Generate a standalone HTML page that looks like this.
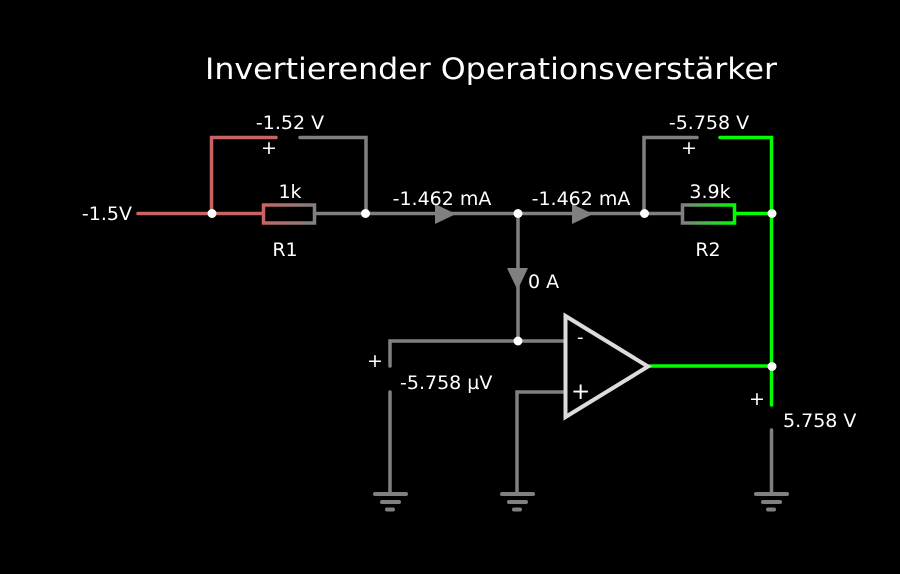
<!DOCTYPE html>
<html><head><meta charset="utf-8"><style>
html,body{margin:0;padding:0;background:#000;}
svg{display:block;}
text{font-family:"DejaVu Sans","Liberation Sans",sans-serif;fill:#fff;}
</style></head><body>
<svg width="900" height="574" viewBox="0 0 900 574" xmlns="http://www.w3.org/2000/svg">
<defs>
<linearGradient id="g1" x1="0" x2="1" y1="0" y2="0"><stop offset="0" stop-color="#c86464"/><stop offset="1" stop-color="#808080"/></linearGradient>
<linearGradient id="g2" x1="0" x2="1" y1="0" y2="0"><stop offset="0" stop-color="#808080"/><stop offset="1" stop-color="#00ff00"/></linearGradient>
</defs>
<rect width="900" height="574" fill="#000"/>
<text x="491" y="79" font-size="29" text-anchor="middle" fill="#e6e6e6" textLength="572" lengthAdjust="spacingAndGlyphs">Invertierender Operationsverstärker</text>

<g fill="none" stroke-width="3.5" stroke-linecap="round" stroke-linejoin="miter">
<!-- red -->
<path d="M138 213.5 H263" stroke="#c86464"/>
<path d="M211.5 213.5 V137.5 H276" stroke="#c86464"/>
<rect x="263.5" y="205" width="51" height="18" stroke="url(#g1)"/>
<!-- gray -->
<path d="M314.5 213.5 H682" stroke="#808080"/>
<path d="M300 137.5 H366 V213.5" stroke="#808080"/>
<path d="M644 213.5 V137.5 H697" stroke="#808080"/>
<path d="M518 213.5 V341 H565" stroke="#808080"/>
<path d="M390 366 V341 H518" stroke="#808080"/>
<path d="M390 392 V494" stroke="#808080"/>
<path d="M565 392 H517 V494" stroke="#808080"/>
<path d="M771.5 430 V494" stroke="#808080"/>
<rect x="682.5" y="205" width="52" height="18" stroke="url(#g2)"/>
<!-- green -->
<path d="M734.5 213.5 H771.5" stroke="#00ff00"/>
<path d="M720 137.5 H771.5 V405" stroke="#00ff00"/>
<path d="M649 366 H771.5" stroke="#00ff00"/>
</g>

<!-- grounds -->
<g stroke="#808080" stroke-width="4" stroke-linecap="round">
<path d="M375 494 H406 M382 502 H399 M387 509.5 H393"/>
<path d="M502 494 H533 M509 502 H526 M514 509.5 H520"/>
<path d="M756 494 H787 M763 502 H780 M768 509.5 H774"/>
</g>

<!-- op amp -->
<polygon points="565.5,316 565.5,417 648,366.5" fill="#000" stroke="#dcdcdc" stroke-width="4" stroke-linejoin="miter"/>
<text x="577" y="343" font-size="18">-</text>
<text x="571" y="399" font-size="23">+</text>

<!-- arrows -->
<g fill="#808080">
<polygon points="435,204 435,224 456,214"/>
<polygon points="572,204 572,224 593,214"/>
<polygon points="507,268 528,268 517.5,290"/>
</g>

<!-- junctions -->
<g fill="#fff">
<circle cx="212" cy="213.5" r="4.5"/>
<circle cx="365.5" cy="213.5" r="4.5"/>
<circle cx="518" cy="213.5" r="4.5"/>
<circle cx="644.5" cy="213.5" r="4.5"/>
<circle cx="772" cy="213.5" r="4.5"/>
<circle cx="518" cy="341" r="4.5"/>
<circle cx="772" cy="366.5" r="4.5"/>
</g>

<!-- labels -->
<g font-size="19">
<text x="132" y="220" text-anchor="end">-1.5V</text>
<text x="290" y="129" text-anchor="middle">-1.52 V</text>
<text x="269" y="154" text-anchor="middle">+</text>
<text x="290" y="198" text-anchor="middle">1k</text>
<text x="285" y="256" text-anchor="middle">R1</text>
<text x="442" y="205" text-anchor="middle">-1.462 mA</text>
<text x="581" y="205" text-anchor="middle">-1.462 mA</text>
<text x="528" y="288">0 A</text>
<text x="709" y="129" text-anchor="middle">-5.758 V</text>
<text x="689" y="154" text-anchor="middle">+</text>
<text x="710" y="198" text-anchor="middle">3.9k</text>
<text x="708" y="256" text-anchor="middle">R2</text>
<text x="375" y="367" text-anchor="middle">+</text>
<text x="400" y="389">-5.758 µV</text>
<text x="757" y="405" text-anchor="middle">+</text>
<text x="783" y="427">5.758 V</text>
</g>
</svg>
</body></html>
